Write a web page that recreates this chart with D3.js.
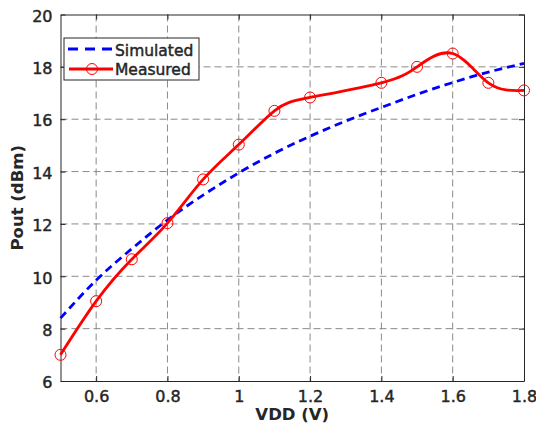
<!DOCTYPE html>
<html>
<head>
<meta charset="utf-8">
<script src="https://d3js.org/d3.v7.min.js"></script>
<style>
  body { margin: 0; background: #fff; }
  svg text { font-family: "DejaVu Sans", sans-serif; fill: #262626; }
</style>
</head>
<body>
<div id="chart"></div>
<script>
// data
var vdd = [0.5, 0.6, 0.7, 0.8, 0.9, 1.0, 1.1, 1.2, 1.3, 1.4, 1.5, 1.6, 1.7, 1.8];
var simulated = [8.4, 9.85, 11.05, 12.15, 13.1, 13.95, 14.7, 15.35, 15.93, 16.45, 16.95, 17.4, 17.8, 18.13];
var measVdd = [0.5, 0.6, 0.7, 0.8, 0.9, 1.0, 1.1, 1.2, 1.4, 1.5, 1.6, 1.7, 1.8];
var measured = [7.0, 9.05, 10.65, 12.03, 13.7, 15.03, 16.32, 16.83, 17.39, 18.0, 18.51, 17.39, 17.1];
var xTicks = [0.6, 0.8, 1, 1.2, 1.4, 1.6, 1.8];
var yTicks = [6, 8, 10, 12, 14, 16, 18, 20];

// set the dimensions and margins of the graph
var W = 536, H = 431;
var margin = {top: 14.5, right: 12, bottom: 50, left: 60.5},
    width = W - margin.left - margin.right,
    height = H - margin.top - margin.bottom;

var svg = d3.select("#chart")
  .append("svg")
    .attr("width", W)
    .attr("height", H)
  .append("g")
    .attr("transform", "translate(" + margin.left + "," + margin.top + ")");

var x = d3.scaleLinear().domain([0.5, 1.8]).range([0, width]);
var y = d3.scaleLinear().domain([6, 20]).range([height, 0]);

// grid lines
svg.append("g")
  .selectAll("line")
  .data(xTicks.filter(d => d < 1.8))
  .enter()
  .append("line")
    .attr("x1", d => x(d)).attr("x2", d => x(d))
    .attr("y1", 0).attr("y2", height)
    .attr("stroke", "#8a8a8a")
    .attr("stroke-dasharray", "7,4");
svg.append("g")
  .selectAll("line")
  .data(yTicks.filter(d => d > 6 && d < 20))
  .enter()
  .append("line")
    .attr("y1", d => y(d)).attr("y2", d => y(d))
    .attr("x1", 0).attr("x2", width)
    .attr("stroke", "#8a8a8a")
    .attr("stroke-dasharray", "7,4");

// axes (ticks inside, on all four sides)
var fmt = d3.format("");
svg.append("g")
  .attr("transform", "translate(0," + height + ")")
  .call(d3.axisBottom(x).tickValues(xTicks).tickSizeInner(-5).tickSizeOuter(0).tickPadding(10).tickFormat(fmt))
  .call(g => g.selectAll("text").style("font-size", "16px"));
svg.append("g")
  .call(d3.axisTop(x).tickValues(xTicks).tickSizeInner(-5).tickSizeOuter(0).tickFormat(""));
svg.append("g")
  .call(d3.axisLeft(y).tickValues(yTicks).tickSizeInner(-5).tickSizeOuter(0).tickPadding(8))
  .call(g => g.selectAll("text").style("font-size", "16px").attr("dy", "0.42em"));
svg.append("g")
  .attr("transform", "translate(" + width + ",0)")
  .call(d3.axisRight(y).tickValues(yTicks).tickSizeInner(-5).tickSizeOuter(0).tickFormat(""));
svg.selectAll(".domain").attr("stroke", "#262626");
svg.selectAll(".tick line").attr("stroke", "#262626");
// the reference text is a bit heavier than plain DejaVu
svg.selectAll(".tick text").attr("stroke", "#262626").attr("stroke-width", 0.45);

// axis labels
svg.append("text")
  .attr("x", width / 2)
  .attr("y", height + 39)
  .style("text-anchor", "middle")
  .style("font-size", "16.5px")
  .style("font-weight", "bold")
  .text("VDD (V)");
svg.append("text")
  .attr("transform", "rotate(-90)")
  .attr("x", -height / 2)
  .attr("y", -38)
  .style("text-anchor", "middle")
  .style("font-size", "16.5px")
  .style("font-weight", "bold")
  .text("Pout (dBm)");

// simulated line
var simLine = d3.line()
  .x((d, i) => x(vdd[i]))
  .y(d => y(d))
  .curve(d3.curveNatural);
svg.append("path")
  .datum(simulated)
  .attr("d", simLine)
  .attr("fill", "none")
  .attr("stroke", "#0000ff")
  .attr("stroke-width", 2.8)
  .attr("stroke-dasharray", "8,5");

// measured line + circles
var measLine = d3.line()
  .x((d, i) => x(measVdd[i]))
  .y(d => y(d))
  .curve(d3.curveNatural);
svg.append("path")
  .datum(measured)
  .attr("d", measLine)
  .attr("fill", "none")
  .attr("stroke", "#ff0000")
  .attr("stroke-width", 2.8);
svg.append("g")
  .selectAll("circle")
  .data(measured)
  .enter()
  .append("circle")
    .attr("cx", (d, i) => x(measVdd[i]))
    .attr("cy", d => y(d))
    .attr("r", 5.5)
    .attr("fill", "none")
    .attr("stroke", "#ff0000")
    .attr("stroke-width", 1);

// legend
var lg = svg.append("g").attr("transform", "translate(" + (64 - margin.left) + "," + (38 - margin.top) + ")");
lg.append("rect")
  .attr("width", 135).attr("height", 42)
  .attr("fill", "#fff")
  .attr("stroke", "#262626");
lg.append("line")
  .attr("x1", 4).attr("x2", 49).attr("y1", 11).attr("y2", 11)
  .attr("stroke", "#0000ff").attr("stroke-width", 2.8)
  .attr("stroke-dasharray", "10,7");
lg.append("line")
  .attr("x1", 5).attr("x2", 49).attr("y1", 31).attr("y2", 31)
  .attr("stroke", "#ff0000").attr("stroke-width", 2.8);
lg.append("circle")
  .attr("cx", 28).attr("cy", 31).attr("r", 5.5)
  .attr("fill", "none").attr("stroke", "#ff0000");
lg.append("text")
  .attr("x", 51).attr("y", 17.5)
  .style("font-size", "15.5px")
  .attr("stroke", "#262626").attr("stroke-width", 0.45)
  .text("Simulated");
lg.append("text")
  .attr("x", 51).attr("y", 37)
  .style("font-size", "15.5px")
  .attr("stroke", "#262626").attr("stroke-width", 0.45)
  .text("Measured");
</script>
</body>
</html>
